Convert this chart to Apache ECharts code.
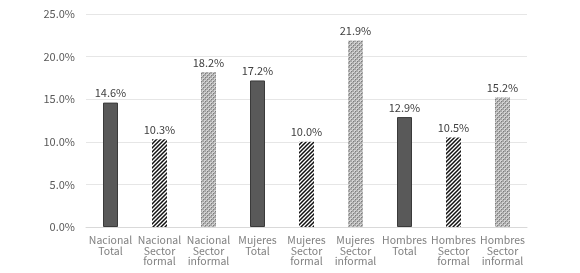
<!DOCTYPE html>
<html>
<head>
<meta charset="utf-8">
<script src="https://cdn.jsdelivr.net/npm/echarts@6/dist/echarts.min.js"></script>
<style>
  html, body { margin: 0; padding: 0; background: #fff; }
  #chart { width: 580px; height: 273px; }
</style>
</head>
<body>
<div id="chart"></div>
<script>
var categories = ['Nacional\nTotal', 'Nacional\nSector\nformal', 'Nacional\nSector\ninformal',
  'Mujeres\nTotal', 'Mujeres\nSector\nformal', 'Mujeres\nSector\ninformal',
  'Hombres\nTotal', 'Hombres\nSector\nformal', 'Hombres\nSector\ninformal'];
var values = [14.6, 10.3, 18.2, 17.2, 10.0, 21.9, 12.9, 10.5, 15.2];
var kinds = ['total', 'formal', 'informal', 'total', 'formal', 'informal', 'total', 'formal', 'informal'];
var yTicks = [0, 5, 10, 15, 20, 25];

// trama de rayas diagonales
function hatch() {
  var c = document.createElement('canvas');
  c.width = 4; c.height = 4;
  var ctx = c.getContext('2d');
  ctx.fillStyle = '#fff';
  ctx.fillRect(0, 0, 4, 4);
  ctx.strokeStyle = '#111';
  ctx.lineWidth = 1.5;
  ctx.beginPath();
  ctx.moveTo(0, 4); ctx.lineTo(4, 0);
  ctx.moveTo(-1, 1); ctx.lineTo(1, -1);
  ctx.moveTo(3, 5); ctx.lineTo(5, 3);
  ctx.stroke();
  return c;
}
// trama punteada gris
function dots() {
  var c = document.createElement('canvas');
  c.width = 4; c.height = 4;
  var ctx = c.getContext('2d');
  ctx.fillStyle = '#a8a8a8';
  ctx.fillRect(0, 0, 4, 4);
  ctx.fillStyle = '#d4d4d4';
  ctx.fillRect(0, 0, 2, 2);
  ctx.fillRect(2, 2, 2, 2);
  ctx.fillStyle = '#7c7c7c';
  ctx.fillRect(1, 1, 1, 1);
  ctx.fillRect(3, 3, 1, 1);
  return c;
}
var fills = {
  total: { color: '#595959', borderColor: '#3a3a3a', borderWidth: 1 },
  formal: { color: { image: hatch(), repeat: 'repeat' } },
  informal: { color: { image: dots(), repeat: 'repeat' } }
};

var chart = echarts.init(document.getElementById('chart'));
var option = {
  backgroundColor: '#ffffff',
  animation: false,
  textStyle: { fontFamily: '"Noto Sans CJK JP", "Noto Sans", sans-serif' },
  grid: { left: 86, right: 53, top: 14, bottom: 46 },
  xAxis: {
    type: 'category',
    data: categories,
    axisLine: { lineStyle: { color: '#d9d9d9' } },
    axisTick: { show: false },
    axisLabel: { color: '#808080', fontSize: 10.5, lineHeight: 10.5, margin: 8, interval: 0 }
  },
  yAxis: {
    type: 'value',
    min: yTicks[0],
    max: yTicks[yTicks.length - 1],
    interval: 5,
    axisLine: { show: false },
    axisTick: { show: false },
    splitLine: { lineStyle: { color: '#e6e6e6' } },
    axisLabel: { color: '#595959', fontSize: 11, margin: 11, formatter: function (v) { return v.toFixed(1) + '%'; } }
  },
  series: [{
    type: 'bar',
    barWidth: 15,
    data: values.map(function (v, i) {
      return { value: v, itemStyle: fills[kinds[i]] };
    }),
    label: {
      show: true,
      position: 'top',
      distance: 4,
      color: '#404040',
      fontSize: 11,
      formatter: function (p) { return p.value.toFixed(1) + '%'; }
    }
  }]
};
chart.setOption(option);
</script>
</body>
</html>
